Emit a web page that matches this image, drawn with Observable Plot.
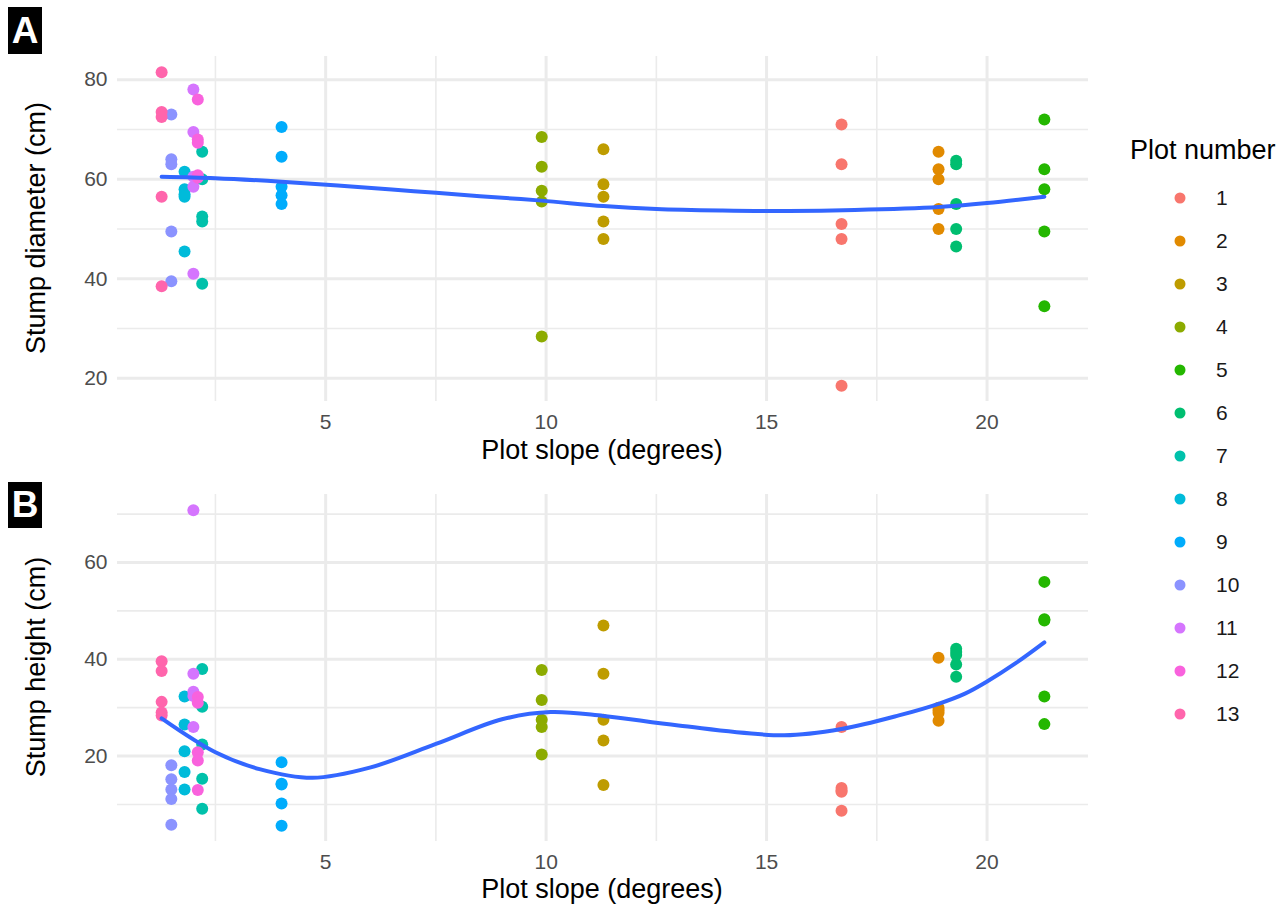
<!DOCTYPE html>
<html><head><meta charset="utf-8">
<script src="https://cdn.jsdelivr.net/npm/d3@7"></script>
<script src="https://cdn.jsdelivr.net/npm/@observablehq/plot@0.6"></script>
<style>
body{margin:0;background:#fff;font-family:"Liberation Sans",Arial,sans-serif;}
#root{position:relative;width:1288px;height:908px;overflow:hidden;background:#fff;}
#root svg{position:absolute;left:0;}
.tag{position:absolute;left:8px;width:34px;background:#000;color:#fff;font-weight:bold;font-size:37px;text-align:center;}
.t{position:absolute;font-size:27px;color:#000;white-space:nowrap;transform:translate(-50%,-50%);}
.ty{position:absolute;font-size:27px;color:#000;white-space:nowrap;transform:translate(-50%,-50%) rotate(-90deg);}
.lg{position:absolute;font-size:21px;color:#1a1a1a;white-space:nowrap;transform:translateY(-50%);}
.sw{position:absolute;width:11px;height:11px;border-radius:50%;transform:translate(-50%,-50%);}
</style></head>
<body><div id="root"></div>
<script>
// ---- data ----
const plotIds = [1,2,3,4,5,6,7,8,9,10,11,12,13];
const plotColors = ["#F8766D","#E18A00","#BE9C00","#8CAB00","#24B700","#00BE70","#00C1AB","#00BBDA","#00ACFC","#8B93FF","#D575FE","#F962DD","#FF65AC"];
const slopeDeg = [16.7, 18.9, 11.3, 9.9, 21.3, 19.3, 2.2, 1.8, 4.0, 1.5, 2.0, 2.1, 1.28];
const diameterCm = [
  [71, 63, 51, 48, 18.5],
  [65.5, 62, 60, 54, 50],
  [66, 59, 56.5, 51.5, 48],
  [68.5, 62.5, 57.7, 55.5, 28.4],
  [72, 62, 58, 49.5, 34.5],
  [63.7, 63, 55, 50, 46.5],
  [65.5, 60, 52.5, 51.5, 39],
  [61.5, 58, 57, 56.5, 45.5],
  [70.5, 64.5, 58.5, 56.8, 55],
  [73, 64, 63, 49.5, 39.5],
  [78, 69.5, 60.5, 58.5, 41],
  [76, 68, 67.3, 60.8, 60.3],
  [81.5, 73.5, 72.5, 56.5, 38.5]
];
const heightCm = [
  [26, 13.4, 12.9, 12.6, 8.7],
  [40.3, 30, 29.4, 28.9, 27.3],
  [47, 37, 27.5, 23.2, 14],
  [37.8, 31.6, 27.5, 26, 20.3],
  [56, 48.3, 48, 32.3, 26.6],
  [42.2, 41.5, 40.9, 38.9, 36.4],
  [38, 30.2, 22.4, 15.3, 9.1],
  [32.3, 26.5, 21, 16.7, 13.1],
  [18.7, 14.3, 14.1, 10.2, 5.6],
  [18.1, 15.2, 13.1, 11.1, 5.8],
  [70.8, 37, 33.3, 32.4, 26],
  [32.2, 31, 20.8, 19.1, 13],
  [39.6, 37.6, 31.2, 29, 28.4]
];
// smoothed trend (loess)
const smoothSlopeA = [1.28, 2.5, 4.0, 5.5, 7.0, 8.5, 9.9, 11.3, 12.5, 14, 15.5, 17, 18.9, 20, 21.3];
const smoothDiameter = [60.5, 60.2, 59.5, 58.6, 57.6, 56.6, 55.7, 54.6, 54.0, 53.7, 53.6, 53.8, 54.4, 55.2, 56.5];
const smoothSlopeB = [1.28, 2.5, 3.5, 4.7, 6.0, 7.5, 9.0, 10.1, 11.3, 13.0, 15.4, 16.7, 18.0, 18.9, 19.5, 20.0, 20.65, 21.3];
const smoothHeight = [27.8, 20.8, 17.3, 15.5, 17.6, 22.5, 27.6, 29.1, 28.3, 26.3, 24.3, 25.6, 28.4, 30.8, 32.9, 35.4, 39.2, 43.5];

const xMajor = [5, 10, 15, 20];
const xMinor = [2.5, 7.5, 12.5, 17.5];
const diaMajor = [20, 40, 60, 80];
const diaMinor = [30, 50, 70];
const hgtMajor = [20, 40, 60];
const hgtMinor = [10, 30, 50, 70];

function expand(ext) { const d = (ext[1]-ext[0])*0.05; return [ext[0]-d, ext[1]+d]; }

const FONT = "Liberation Sans, Arial, sans-serif";
function panel(values, sx, sy, major, minor, height, mt, mb) {
  const data = [];
  plotIds.forEach((p, i) => values[i].forEach(v => data.push({plot: p, slope: slopeDeg[i], v})));
  const fit = sx.map((x, i) => ({x, y: sy[i]}));
  const grid = {stroke: "#EBEBEB", strokeOpacity: 1};
  return Plot.plot({
    width: 1100, height, marginLeft: 117, marginRight: 12, marginTop: mt, marginBottom: mb,
    style: {fontFamily: FONT, background: "transparent", overflow: "visible"},
    x: {domain: expand(d3.extent(slopeDeg))},
    y: {domain: expand(d3.extent(data, d => d.v))},
    color: {type: "ordinal", domain: plotIds, range: plotColors},
    marks: [
      Plot.gridX(xMinor, {...grid, strokeWidth: 1.6}),
      Plot.gridY(minor, {...grid, strokeWidth: 1.6}),
      Plot.gridX(xMajor, {...grid, strokeWidth: 3}),
      Plot.gridY(major, {...grid, strokeWidth: 3}),
      Plot.axisX(xMajor, {tickSize: 0, tickPadding: 13, label: null, fill: "#4D4D4D", fontSize: 21}),
      Plot.axisY(major, {tickSize: 0, tickPadding: 10, label: null, fill: "#4D4D4D", fontSize: 21}),
      Plot.dot(data, {x: "slope", y: "v", fill: "plot", r: 6}),
      Plot.line(fit, {x: "x", y: "y", stroke: "#3366FF", strokeWidth: 4, curve: "catmull-rom"})
    ]
  });
}

const root = document.getElementById("root");
const a = panel(diameterCm, smoothSlopeA, smoothDiameter, diaMajor, diaMinor, 470, 56, 69);
a.style.top = "0px";
root.appendChild(a);
const bp = panel(heightCm, smoothSlopeB, smoothHeight, hgtMajor, hgtMinor, 468, 54, 67);
bp.style.top = "440px";
root.appendChild(bp);

function addDiv(cls, text, css) {
  const d = document.createElement("div");
  d.className = cls; d.textContent = text;
  Object.assign(d.style, css);
  root.appendChild(d);
  return d;
}
addDiv("tag", "A", {top: "7px", height: "47px", lineHeight: "47px"});
addDiv("tag", "B", {top: "482px", height: "46px", lineHeight: "46px"});
addDiv("t", "Plot slope (degrees)", {left: "602px", top: "450px"});
addDiv("t", "Plot slope (degrees)", {left: "602px", top: "889px"});
addDiv("ty", "Stump diameter (cm)", {left: "36px", top: "228px"});
addDiv("ty", "Stump height (cm)", {left: "36px", top: "667px"});

// legend from the color scale
const cs = a.scale("color");
addDiv("lg", "Plot number", {left: "1130px", top: "150px", fontSize: "27px", color: "#000"});
cs.domain.forEach((p, i) => {
  const y = 198 + 43 * i;
  const sw = addDiv("sw", "", {left: "1180px", top: y + "px"});
  sw.style.background = cs.range[i];
  addDiv("lg", String(p), {left: "1216px", top: y + "px"});
});
</script></body></html>
